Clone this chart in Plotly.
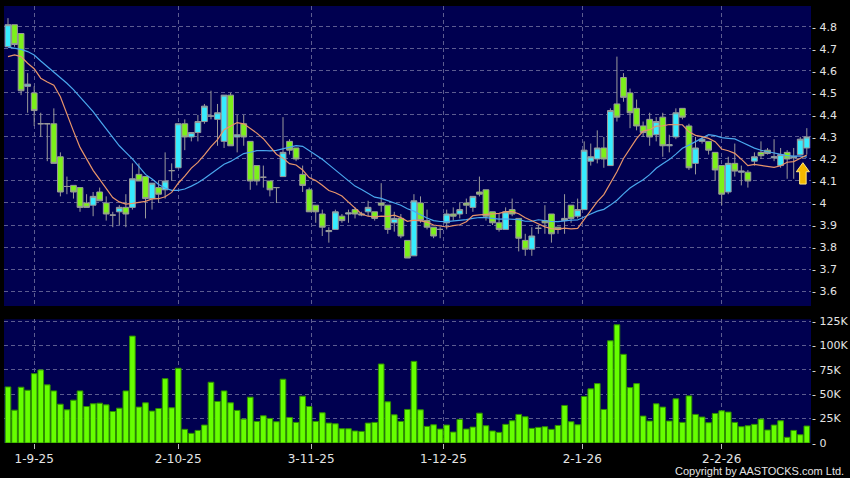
import pandas as pd
import plotly.graph_objects as go
from plotly.subplots import make_subplots


# =========================================================
# Data (daily bars, oldest first)
# =========================================================
opens = [
    4.71, 4.81, 4.77, 4.53, 4.50, 4.36, 4.36, 4.36, 4.21, 4.075,
    4.08, 4.07, 4.00, 3.99, 4.05, 4.00, 3.945, 3.96, 3.98, 3.98,
    4.13, 4.12, 4.02, 4.07, 4.06, 4.147, 4.16, 4.36, 4.30, 4.32,
    4.37, 4.395, 4.38, 4.28, 4.49, 4.30, 4.36, 4.28, 4.17, 4.117,
    4.10, 4.07, 4.12, 4.28, 4.25, 4.13, 4.06, 3.99, 3.95, 3.87,
    3.88, 3.94, 3.95, 3.97, 3.945, 3.96, 3.96, 4.00, 3.99, 3.91,
    3.93, 3.83, 3.76, 4.00, 3.92, 3.89, 3.88, 3.91, 3.95, 3.95,
    4.00, 3.98, 4.05, 4.06, 3.96, 3.91, 3.88, 3.97, 3.93, 3.83,
    3.79, 3.885, 3.92, 3.95, 3.89, 3.92, 3.99, 3.94, 3.97, 4.19,
    4.20, 4.25, 4.17, 4.45, 4.57, 4.50, 4.43, 4.35, 4.38, 4.31,
    4.39, 4.26, 4.30, 4.43, 4.35, 4.18, 4.28, 4.28, 4.23, 4.17,
    4.05, 4.18, 4.14, 4.14, 4.19, 4.23, 4.24, 4.205, 4.17, 4.23,
    4.205, 4.22, 4.25,
]
highs = [
    4.84, 4.81, 4.77, 4.59, 4.53, 4.41, 4.36, 4.43, 4.23, 4.12,
    4.08, 4.07, 4.04, 4.05, 4.07, 4.03, 3.96, 3.99, 4.04, 4.18,
    4.18, 4.12, 4.09, 4.10, 4.23, 4.18, 4.36, 4.38, 4.32, 4.40,
    4.45, 4.51, 4.45, 4.49, 4.50, 4.40, 4.40, 4.28, 4.17, 4.17,
    4.10, 4.07, 4.39, 4.29, 4.25, 4.17, 4.07, 3.99, 3.97, 3.89,
    3.97, 3.95, 3.97, 3.98, 3.96, 4.01, 3.96, 4.09, 3.99, 3.96,
    3.95, 3.83, 4.04, 4.03, 3.97, 3.89, 3.89, 3.97, 3.98, 4.00,
    4.02, 4.03, 4.12, 4.06, 3.96, 3.95, 3.98, 4.02, 3.93, 3.86,
    3.89, 3.90, 3.99, 3.95, 3.89, 4.04, 3.99, 4.02, 4.28, 4.27,
    4.33, 4.30, 4.43, 4.665, 4.59, 4.52, 4.47, 4.37, 4.41, 4.39,
    4.41, 4.31, 4.43, 4.43, 4.36, 4.30, 4.30, 4.28, 4.23, 4.17,
    4.21, 4.27, 4.17, 4.15, 4.23, 4.28, 4.25, 4.29, 4.25, 4.24,
    4.25, 4.30, 4.34,
]
lows = [
    4.71, 4.71, 4.49, 4.41, 4.35, 4.30, 4.19, 4.18, 4.03, 4.04,
    4.02, 3.96, 3.98, 3.94, 4.01, 3.92, 3.89, 3.90, 3.89, 3.97,
    4.10, 3.93, 3.97, 4.00, 4.02, 4.10, 4.16, 4.24, 4.28, 4.28,
    4.36, 4.38, 4.26, 4.25, 4.26, 4.23, 4.26, 4.06, 4.08, 4.07,
    4.03, 4.00, 4.12, 4.22, 4.19, 4.05, 3.96, 3.91, 3.85, 3.82,
    3.88, 3.91, 3.91, 3.93, 3.94, 3.94, 3.92, 3.96, 3.86, 3.87,
    3.84, 3.75, 3.76, 3.91, 3.88, 3.84, 3.84, 3.88, 3.92, 3.93,
    3.95, 3.96, 4.03, 3.92, 3.90, 3.87, 3.88, 3.94, 3.78, 3.76,
    3.76, 3.86, 3.86, 3.82, 3.86, 3.86, 3.91, 3.93, 3.97, 4.17,
    4.18, 4.16, 4.17, 4.37, 4.46, 4.34, 4.33, 4.30, 4.26, 4.28,
    4.21, 4.23, 4.29, 4.38, 4.15, 4.13, 4.27, 4.22, 4.10, 3.99,
    4.04, 4.12, 4.08, 4.07, 4.17, 4.20, 4.22, 4.19, 4.16, 4.11,
    4.11, 4.22, 4.22,
]
closes = [
    4.81, 4.72, 4.51, 4.54, 4.42, 4.36, 4.36, 4.18, 4.05, 4.075,
    4.05, 3.98, 3.98, 4.03, 4.01, 3.95, 3.945, 3.98, 3.95, 4.11,
    4.10, 4.02, 4.09, 4.04, 4.10, 4.147, 4.36, 4.30, 4.32, 4.37,
    4.44, 4.395, 4.41, 4.49, 4.26, 4.31, 4.30, 4.10, 4.10, 4.117,
    4.06, 4.07, 4.23, 4.24, 4.20, 4.08, 3.96, 3.96, 3.89, 3.875,
    3.96, 3.92, 3.955, 3.95, 3.95, 3.98, 3.93, 3.99, 3.88, 3.93,
    3.85, 3.75, 4.01, 3.92, 3.89, 3.85, 3.88, 3.95, 3.94, 3.97,
    3.99, 4.03, 4.04, 3.94, 3.91, 3.88, 3.96, 3.95, 3.84, 3.79,
    3.85, 3.885, 3.91, 3.86, 3.88, 3.93, 3.93, 3.97, 4.24, 4.21,
    4.25, 4.20, 4.42, 4.39, 4.48, 4.41, 4.35, 4.32, 4.30, 4.37,
    4.26, 4.265, 4.41, 4.39, 4.16, 4.25, 4.29, 4.24, 4.15, 4.04,
    4.18, 4.145, 4.145, 4.10, 4.21, 4.215, 4.225, 4.21, 4.22, 4.20,
    4.21, 4.29, 4.30,
]
volumes_k = [
    57.5, 33.7, 57.2, 54.1, 71.1, 74.9, 59.6, 53.4, 39.8, 34.0,
    43.9, 53.4, 37.4, 40.2, 40.8, 39.1, 32.3, 35.7, 53.4, 109.6,
    36.8, 41.2, 32.7, 35.4, 66.0, 36.1, 76.6, 14.0, 9.9, 12.9,
    18.4, 62.3, 42.6, 53.4, 41.2, 33.4, 24.5, 47.0, 22.1, 27.9,
    25.2, 21.8, 65.4, 26.2, 21.1, 48.0, 37.4, 22.1, 31.0, 20.4,
    19.7, 14.6, 14.6, 12.3, 11.9, 20.4, 21.1, 81.0, 42.2, 28.9,
    22.1, 34.4, 83.7, 34.0, 17.0, 18.7, 14.3, 18.4, 11.2, 24.2,
    14.3, 16.3, 30.6, 17.7, 12.3, 10.9, 19.1, 22.8, 29.3, 26.9,
    15.0, 16.0, 16.7, 14.0, 18.0, 38.5, 21.8, 18.7, 47.7, 55.5,
    60.9, 34.4, 104.8, 121.2, 90.9, 56.8, 60.9, 27.6, 22.5, 40.2,
    36.8, 22.5, 45.3, 21.1, 48.3, 29.3, 26.6, 20.8, 30.3, 33.0,
    31.7, 21.1, 16.7, 17.7, 19.1, 24.5, 13.3, 18.4, 22.8, 5.8,
    12.9, 8.5, 17.4,
]

ma10_head = [4.665, 4.673, 4.665, 4.635, 4.61, 4.567, 4.55, 4.535, 4.483]
ma20_head = [
    4.708, 4.703, 4.698, 4.688, 4.672, 4.645, 4.62, 4.595, 4.57, 4.544,
    4.515, 4.483, 4.45, 4.415, 4.375, 4.335, 4.295, 4.26, 4.23,
]

tick_pos = [4, 26, 46.3, 66.5, 87.7, 109]
tick_labels = ["1-9-25", "2-10-25", "3-11-25", "1-12-25", "2-1-26", "2-2-26"]
price_ticks = [3.6, 3.7, 3.8, 3.9, 4.0, 4.1, 4.2, 4.3, 4.4, 4.5, 4.6, 4.7, 4.8]
price_labels = ["3.6", "3.7", "3.8", "3.9", "4", "4.1", "4.2", "4.3", "4.4", "4.5", "4.6", "4.7", "4.8"]
vol_ticks = [0, 25000, 50000, 75000, 100000, 125000]
vol_labels = ["0", "25K", "50K", "75K", "100K", "125K"]


# =========================================================
# Styling
# =========================================================
PAPER = "#000000"
PANEL = "#000050"
GRID = "#5c5c90"
TEXT = "#e4e4e4"
UP = "#36ecff"
DOWN = "#7cf01a"
CANDLE_EDGE = "#9a9a9a"
VOL_FILL = "#66ff00"
VOL_EDGE = "#2f8f00"
MA10_COLOR = "#e8956a"
MA20_COLOR = "#4aa8ee"
FONT = "DejaVu Sans"


def _ma(values: list[float], window: int, head: list[float]) -> list[float]:
    out = pd.Series(values).rolling(window).mean()
    out.iloc[: len(head)] = head
    return out.round(4).tolist()


x = list(range(len(closes)))
volumes = [v * 1000 for v in volumes_k]
ma10 = _ma(closes, 10, ma10_head)
ma20 = _ma(closes, 20, ma20_head)

fig = make_subplots(rows=2, cols=1, shared_xaxes=True)

fig.add_trace(
    go.Candlestick(
        x=x,
        open=opens,
        high=highs,
        low=lows,
        close=closes,
        increasing=dict(fillcolor=UP, line=dict(color=CANDLE_EDGE, width=1)),
        decreasing=dict(fillcolor=DOWN, line=dict(color=CANDLE_EDGE, width=1)),
        whiskerwidth=0,
        showlegend=False,
    ),
    row=1,
    col=1,
)
fig.add_trace(
    go.Scatter(x=x, y=ma20, mode="lines", line=dict(color=MA20_COLOR, width=1.2),
               showlegend=False, hoverinfo="skip"),
    row=1,
    col=1,
)
fig.add_trace(
    go.Scatter(x=x, y=ma10, mode="lines", line=dict(color=MA10_COLOR, width=1.2),
               showlegend=False, hoverinfo="skip"),
    row=1,
    col=1,
)
fig.add_trace(
    go.Bar(
        x=x,
        y=volumes,
        width=0.86,
        marker=dict(color=VOL_FILL, line=dict(color=VOL_EDGE, width=1)),
        showlegend=False,
    ),
    row=2,
    col=1,
)

# last-bar marker (block arrow under the latest candle)
ax, ay = 121.4, 4.183
arrow = (
    f"M {ax},{ay} L {ax + 1.0},{ay - 0.041} L {ax + 0.5},{ay - 0.041} "
    f"L {ax + 0.5},{ay - 0.097} L {ax - 0.5},{ay - 0.097} L {ax - 0.5},{ay - 0.041} "
    f"L {ax - 1.0},{ay - 0.041} Z"
)
fig.add_shape(type="path", path=arrow, xref="x", yref="y",
              fillcolor="#f3b800", line=dict(color="#ffe680", width=1))

x_common = dict(
    range=[-0.61, 122.64],
    tickmode="array",
    tickvals=tick_pos,
    ticktext=tick_labels,
    showgrid=True,
    gridcolor=GRID,
    griddash="4px,3px",
    gridwidth=1,
    zeroline=False,
    showline=False,
    automargin=False,
)

y_common = dict(
    side="right",
    tickmode="array",
    ticks="",
    showgrid=True,
    gridcolor=GRID,
    griddash="4px,3px",
    zeroline=False,
    automargin=False,
    tickfont=dict(family=FONT, size=11, color=TEXT),
)

fig.update_layout(
    width=850,
    height=478,
    paper_bgcolor=PAPER,
    plot_bgcolor=PANEL,
    margin=dict(l=4, r=39, t=6, b=35, autoexpand=False),
    font=dict(family=FONT, size=12, color=TEXT),
    boxgap=0.12,
    boxgroupgap=0,
    bargap=0.14,
    hovermode=False,
    xaxis=dict(x_common, showticklabels=False, ticks="", rangeslider=dict(visible=False)),
    xaxis2=dict(x_common, showticklabels=True, ticks="outside", ticklen=5,
                tickcolor="#bbbbbb", tickfont=dict(family=FONT, size=12, color=TEXT)),
    yaxis=dict(
        y_common,
        domain=[0.3135, 1.0],
        range=[3.532, 4.895],
        tickvals=price_ticks,
        ticktext=["- " + t for t in price_labels],
    ),
    yaxis2=dict(
        y_common,
        domain=[0.0, 0.283],
        range=[0, 126800],
        tickvals=vol_ticks,
        ticktext=["- " + t for t in vol_labels],
    ),
    annotations=[
        dict(
            text="Copyright by AASTOCKS.com Ltd.",
            xref="paper",
            yref="paper",
            x=1.0438,
            y=-0.064,
            xanchor="right",
            yanchor="middle",
            showarrow=False,
            font=dict(family="Liberation Sans", size=11, color=TEXT),
        )
    ],
)

# the page is exactly the chart size, so drop the browser's default body margin
fig.write_html(
    "out.html",
    config={"displayModeBar": False, "staticPlot": True},
    post_script="document.body.style.margin='0';document.body.style.overflow='hidden';",
)
